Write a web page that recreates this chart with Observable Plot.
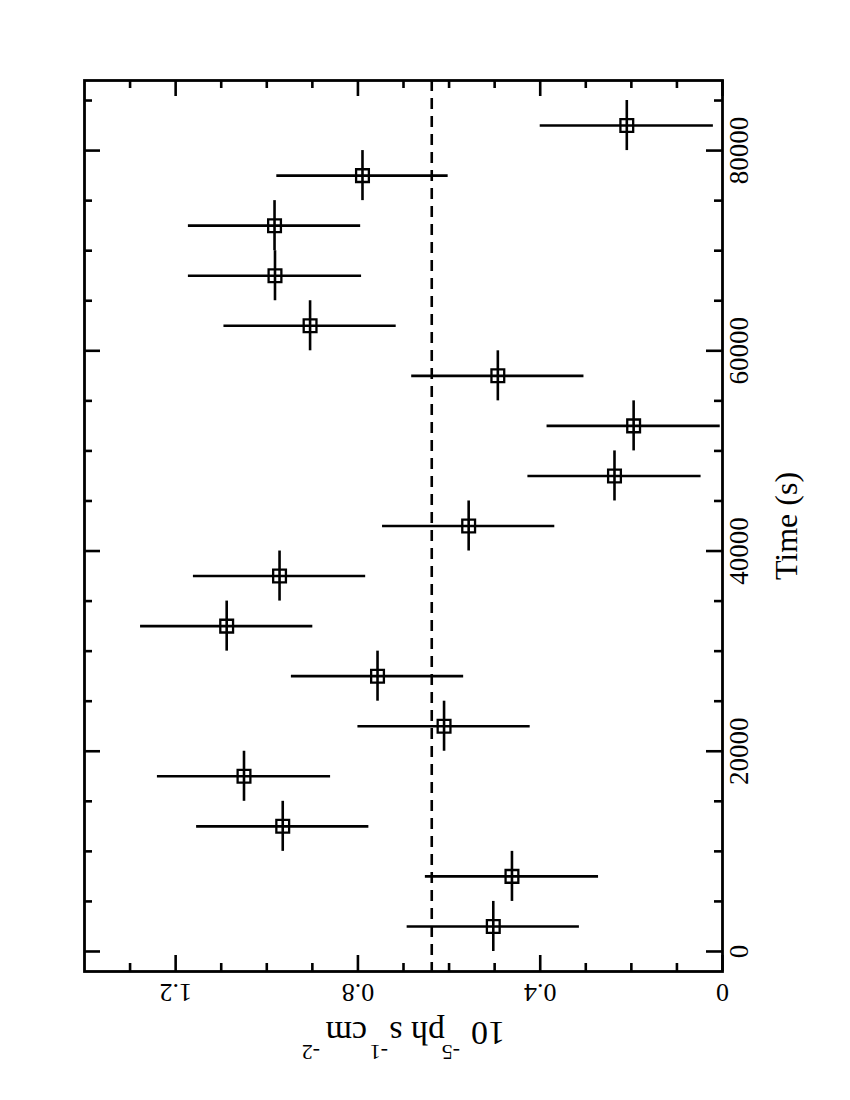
<!DOCTYPE html>
<html><head><meta charset="utf-8">
<script src="https://cdn.jsdelivr.net/npm/d3@7"></script>
<script src="https://cdn.jsdelivr.net/npm/@observablehq/plot@0.6"></script>
<style>html,body{margin:0;padding:0;background:#fff;overflow:hidden}#chart svg{display:block}</style>
</head><body><div id="chart"></div>
<script>
// ---- data ----
const time = [2500, 7500, 12500, 17500, 22500, 27500, 32500, 37500, 42500, 47500, 52500, 57500, 62500, 67500, 72500, 77500, 82500];
const flux = [0.503, 0.462, 0.965, 1.050, 0.611, 0.757, 1.088, 0.972, 0.557, 0.237, 0.195, 0.493, 0.905, 0.982, 0.983, 0.790, 0.210];
const fluxErr = [0.189, 0.190, 0.189, 0.190, 0.189, 0.189, 0.189, 0.189, 0.189, 0.190, 0.190, 0.189, 0.189, 0.190, 0.189, 0.188, 0.190];
const timeHalfWidth = [2500, 2500, 2500, 2500, 2500, 2500, 2500, 2500, 2500, 2500, 2500, 2500, 2500, 2500, 2500, 2500, 2500];
const meanFlux = [0.638];
const fluxMajor = [0, 0.4, 0.8, 1.2];
const fluxMinor = [0.1, 0.2, 0.3, 0.5, 0.6, 0.7, 0.9, 1.0, 1.1, 1.3];
const timeMajor = [0, 20000, 40000, 60000, 80000];
const timeMinor = [5000, 10000, 15000, 25000, 30000, 35000, 45000, 50000, 55000, 65000, 70000, 75000, 85000];
const timeLabel = ["Time (s)"];
const fluxLabelParts = [
  {text: "10", sup: false, x: -102},
  {text: "-5", sup: true, x: -57},
  {text: "ph s", sup: false, x: -42},
  {text: "-1", sup: true, x: 15},
  {text: "cm", sup: false, x: 36},
  {text: "-2", sup: true, x: 83}
];

// ---- layout ----
const W = 850, H = 1100, mL = 84, mR = 128, mT = 80, mB = 129;
const fw = W - mL - mR, fh = H - mT - mB;
const serif = "Liberation Serif";
const LW = 2.6, MAJ = 16, MIN = 8;

const data = time.map((t, i) => ({t, f: flux[i], fe: fluxErr[i], te: timeHalfWidth[i]}));

const chart = Plot.plot({
  width: W, height: H,
  marginLeft: mL, marginRight: mR, marginTop: mT, marginBottom: mB,
  x: {domain: [0, 1.4], reverse: true, axis: null},
  y: {domain: [-2000, 87000], axis: null},
  style: {fontFamily: serif, background: "white", color: "black"},
  marks: [
    Plot.ruleX(meanFlux, {x: d => d, stroke: "black", strokeWidth: LW, strokeDasharray: "11,7"}),
    Plot.ruleY(data, {y: "t", x1: d => d.f - d.fe, x2: d => d.f + d.fe, stroke: "black", strokeWidth: LW}),
    Plot.ruleX(data, {x: "f", y1: d => d.t - d.te, y2: d => d.t + d.te, stroke: "black", strokeWidth: LW}),
    Plot.dot(data, {x: "f", y: "t", symbol: "square", r: 7.2, stroke: "black", strokeWidth: 2.3, fill: "none"}),
    // inward ticks on all four sides
    Plot.tickX(fluxMajor, {x: d => d, insetTop: fh - MAJ, stroke: "black", strokeWidth: LW}),
    Plot.tickX(fluxMajor, {x: d => d, insetBottom: fh - MAJ, stroke: "black", strokeWidth: LW}),
    Plot.tickX(fluxMinor, {x: d => d, insetTop: fh - MIN, stroke: "black", strokeWidth: LW}),
    Plot.tickX(fluxMinor, {x: d => d, insetBottom: fh - MIN, stroke: "black", strokeWidth: LW}),
    Plot.tickY(timeMajor, {y: d => d, insetLeft: fw - MAJ, stroke: "black", strokeWidth: LW}),
    Plot.tickY(timeMajor, {y: d => d, insetRight: fw - MAJ, stroke: "black", strokeWidth: LW}),
    Plot.tickY(timeMinor, {y: d => d, insetLeft: fw - MIN, stroke: "black", strokeWidth: LW}),
    Plot.tickY(timeMinor, {y: d => d, insetRight: fw - MIN, stroke: "black", strokeWidth: LW}),
    Plot.frame({stroke: "black", strokeWidth: 2.8}),
    // tick labels
    Plot.text(fluxMajor, {x: d => d, text: d => String(d), frameAnchor: "bottom", rotate: 180,
      textAnchor: "middle", lineAnchor: "bottom", dy: 12, fontSize: 26, fontFamily: serif, fill: "black"}),
    Plot.text(timeMajor, {y: d => d, text: d => String(d), frameAnchor: "right", rotate: -90,
      textAnchor: "middle", lineAnchor: "bottom", dx: 25, fontSize: 27, fontFamily: serif, fill: "black"}),
    Plot.text(timeLabel, {text: d => d, frameAnchor: "right", rotate: -90,
      textAnchor: "middle", lineAnchor: "bottom", dx: 74, fontSize: 32, fontFamily: serif, fill: "black"})
  ]
});

// upside-down flux axis label with superscripts
const svg = d3.select(chart);
const lab = svg.append("text")
  .attr("transform", `translate(${mL + fw / 2},1022) rotate(180)`)
  .style("font-family", serif).attr("font-size", 34).attr("fill", "black")
  .attr("text-anchor", "start");
fluxLabelParts.forEach(p => {
  const ts = lab.append("tspan").attr("x", p.x).attr("y", p.sup ? -23 : 0).text(p.text);
  if (p.sup) ts.attr("font-size", 22);
});

document.getElementById("chart").appendChild(chart);
</script>
</body></html>
